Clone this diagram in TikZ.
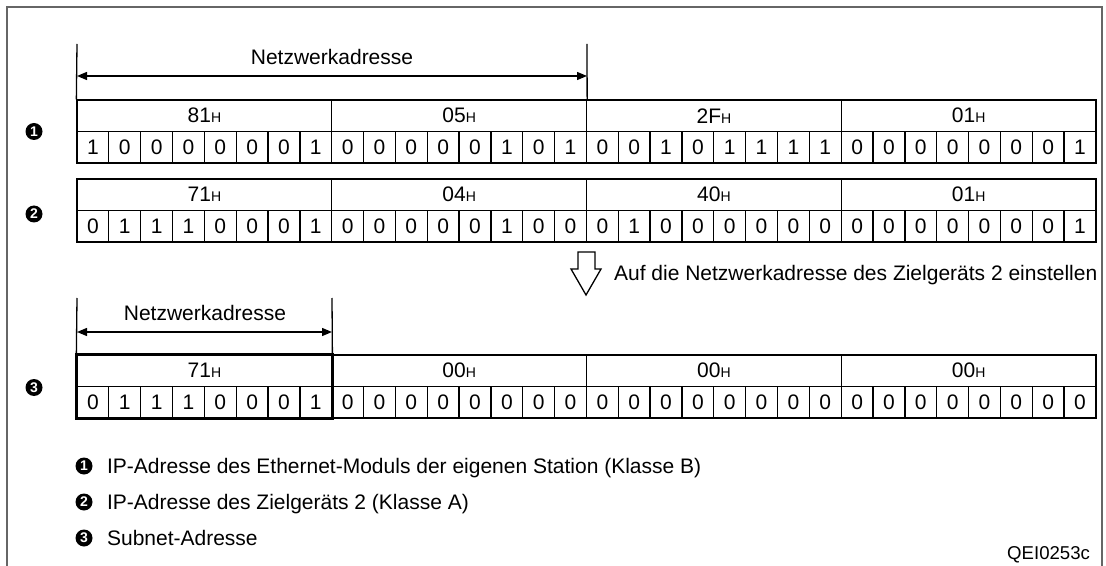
\documentclass[tikz,border=0pt]{standalone}
\usepackage{fontspec}
\setmainfont{Liberation Sans}
\usetikzlibrary{arrows.meta,positioning}

\newcommand{\hx}[1]{#1{\fontsize{7}{8}\selectfont H}}

\tikzset{
  bitcell/.style={draw,line width=0.65pt,minimum width=15.92pt,minimum height=15.75pt,inner sep=0pt},
  bytecell/.style={draw,line width=0.65pt,minimum width=127.37pt,minimum height=15.75pt,inner sep=0pt},
  numdot/.style={circle,fill=black,text=white,inner sep=0pt,minimum size=8.5pt,font=\bfseries\fontsize{7}{7}\selectfont},
  dimline/.style={line width=0.65pt,{Triangle[length=5pt,width=4pt]}-{Triangle[length=5pt,width=4pt]}},
  tick/.style={line width=0.65pt}
}

\begin{document}
\begin{tikzpicture}[x=0.5pt,y=-0.5pt,font=\fontsize{10.5}{12}\selectfont]
\useasboundingbox (0,0) rectangle (1106,566);
\draw[line width=1pt,black!60] (7,566) -- (7,7) -- (1102,7) -- (1102,566);

% row 1
\foreach \h [count=\i from 0] in {81,05,2F,01}
  \node[bytecell] (r1h\i) at ({77+254.75*(\i+0.5)},115.75) {\hx{\h}};
\foreach \b [count=\i from 0] in {1,0,0,0,0,0,0,1, 0,0,0,0,0,1,0,1, 0,0,1,0,1,1,1,1, 0,0,0,0,0,0,0,1}
  \node[bitcell] (r1b\i) at ({77+31.84*(\i+0.5)},147.25) {\b};
% row 2
\foreach \h [count=\i from 0] in {71,04,40,01}
  \node[bytecell] (r2h\i) at ({77+254.75*(\i+0.5)},194.75) {\hx{\h}};
\foreach \b [count=\i from 0] in {0,1,1,1,0,0,0,1, 0,0,0,0,0,1,0,0, 0,1,0,0,0,0,0,0, 0,0,0,0,0,0,0,1}
  \node[bitcell] (r2b\i) at ({77+31.84*(\i+0.5)},226.25) {\b};
% row 3
\foreach \h [count=\i from 0] in {71,00,00,00}
  \node[bytecell] (r3h\i) at ({77+254.75*(\i+0.5)},370.75) {\hx{\h}};
\foreach \b [count=\i from 0] in {0,1,1,1,0,0,0,1, 0,0,0,0,0,0,0,0, 0,0,0,0,0,0,0,0, 0,0,0,0,0,0,0,0}
  \node[bitcell] (r3b\i) at ({77+31.84*(\i+0.5)},402.25) {\b};
\draw[line width=1.3pt] (r3h0.north west) rectangle (r3b7.south east);

% Netzwerkadresse brackets
\coordinate (t1l) at (77,44);  \coordinate (t1r) at (587,44);
\coordinate (a1l) at (77,76);  \coordinate (a1r) at (587,76);
\draw[tick] (t1l) -- (r1h0.north west);
\draw[tick] (t1r) -- (r1h1.north east);
\draw[dimline] (a1l) -- (a1r);
\node (nw1) at (332,57) {Netzwerkadresse};

\coordinate (t3l) at (77,298);  \coordinate (t3r) at (332,298);
\coordinate (a3l) at (77,332);  \coordinate (a3r) at (332,332);
\draw[tick] (t3l) -- (r3h0.north west);
\draw[tick] (t3r) -- (r3h0.north east);
\draw[dimline] (a3l) -- (a3r);
\node (nw3) at (205,313) {Netzwerkadresse};

% hollow arrow
\draw[line width=0.65pt,fill=white] (578,252) -- (595,252) -- (595,269) -- (601,269)
  -- (586,295) -- (571,269) -- (578,269) -- cycle;
\node[anchor=base west] (hint) at (607,280) {Auf die Netzwerkadresse des Zielgeräts 2 einstellen};

% row markers
\node[numdot] (n1) at (34,131.5) {1};
\node[numdot] (n2) at (34,214) {2};
\node[numdot] (n3) at (34,387.5) {3};

% legend
\node[numdot] (l1) at (84,466) {1};
\node[anchor=base west] (l1t) at (100,473.5) {IP-Adresse des Ethernet-Moduls der eigenen Station (Klasse B)};
\node[numdot] (l2) at (84,502) {2};
\node[anchor=base west] (l2t) at (100,509.5) {IP-Adresse des Zielgeräts 2 (Klasse A)};
\node[numdot] (l3) at (84,538) {3};
\node[anchor=base west] (l3t) at (100,545.5) {Subnet-Adresse};
\node[anchor=base east,font=\fontsize{9.3}{11}\selectfont] (code) at (1097,559) {QEI0253c};
\end{tikzpicture}
\end{document}
